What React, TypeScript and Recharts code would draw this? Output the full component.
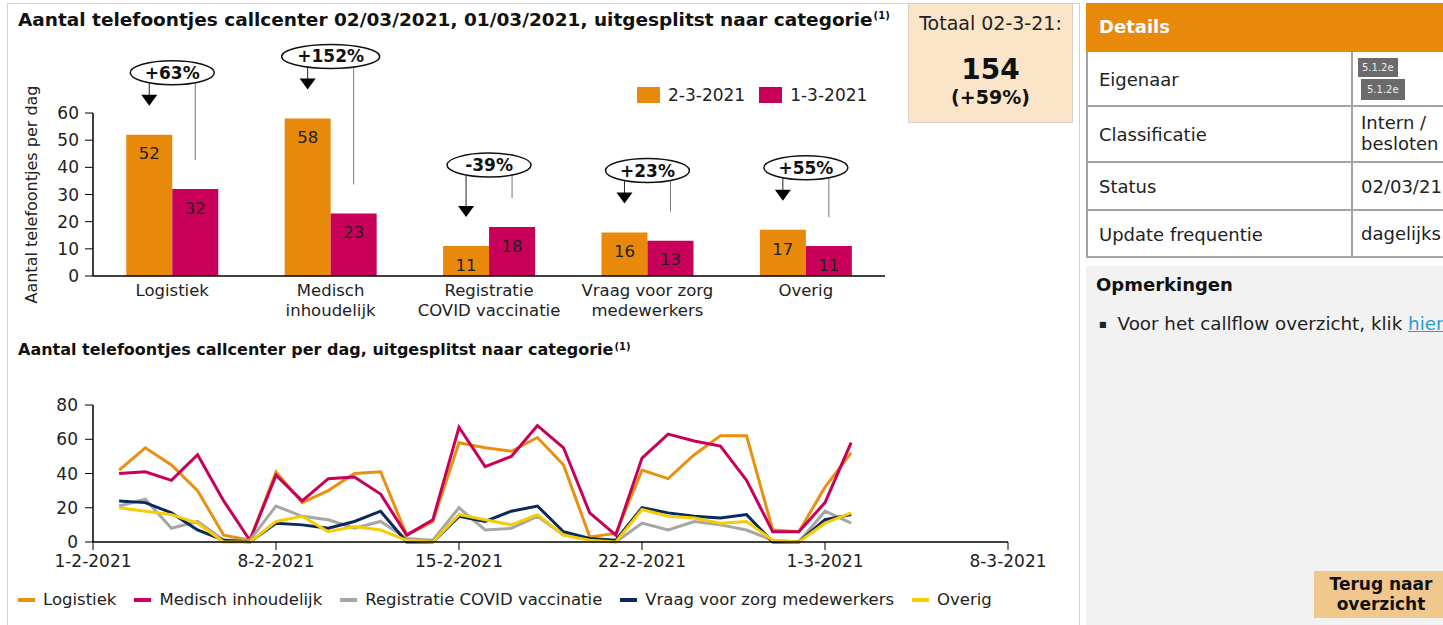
import React from "react";
import { BarChart, Bar, XAxis, YAxis, LabelList, LineChart, Line } from "recharts";

const FONT = "'DejaVu Sans', Verdana, sans-serif";
const ORANGE = "#e8890c";
const MAGENTA = "#c8005a";

// bar chart: calls per category, 2-3-2021 vs 1-3-2021
const categories = [
  "Logistiek",
  "Medisch\ninhoudelijk",
  "Registratie\nCOVID vaccinatie",
  "Vraag voor zorg\nmedewerkers",
  "Overig",
];
const current = [52, 58, 11, 16, 17];
const previous = [32, 23, 18, 13, 11];
const barTicks = [0, 10, 20, 30, 40, 50, 60];

// line chart: calls per day, 2-2-2021 .. 2-3-2021 (day number counted from 1-2-2021)
const days = [1, 2, 3, 4, 5, 6, 7, 8, 9, 10, 11, 12, 13, 14, 15, 16, 17, 18, 19, 20, 21, 22, 23, 24, 25, 26, 27, 28, 29];
const logistiek = [42, 55, 45, 30, 4, 1, 41, 23, 30, 40, 41, 4, 12, 58, 55, 53, 61, 45, 3, 5, 42, 37, 51, 62, 62, 7, 6, 32, 52];
const medisch = [40, 41, 36, 51, 24, 1, 39, 24, 37, 38, 28, 4, 13, 67, 44, 50, 68, 55, 17, 4, 49, 63, 59, 56, 36, 6, 6, 23, 58];
const registratie = [21, 25, 8, 12, 1, 1, 21, 15, 13, 8, 12, 2, 1, 20, 7, 8, 15, 4, 2, 0, 11, 7, 12, 10, 7, 1, 0, 18, 11];
const vraag = [24, 23, 17, 7, 1, 0, 11, 10, 8, 12, 18, 0, 0, 15, 12, 18, 21, 6, 2, 1, 20, 17, 15, 14, 16, 0, 0, 13, 16];
const overig = [20, 18, 16, 11, 0, 0, 12, 15, 6, 9, 7, 1, 0, 16, 13, 10, 16, 4, 1, 0, 19, 15, 14, 11, 12, 1, 0, 11, 17];
const weekTicks = [0, 7, 14, 21, 28, 35];
const weekLabels = ["1-2-2021", "8-2-2021", "15-2-2021", "22-2-2021", "1-3-2021", "8-3-2021"];
const lineTicks = [0, 20, 40, 60, 80];

const series = [
  { key: "logistiek", name: "Logistiek", color: "#e8900f", values: logistiek },
  { key: "medisch", name: "Medisch inhoudelijk", color: MAGENTA, values: medisch },
  { key: "registratie", name: "Registratie COVID vaccinatie", color: "#a6a6a6", values: registratie },
  { key: "vraag", name: "Vraag voor zorg medewerkers", color: "#0b2a5c", values: vraag },
  { key: "overig", name: "Overig", color: "#f5cd00", values: overig },
];

const barData = categories.map((name, i) => ({ name, cur: current[i], prev: previous[i] }));
const lineData = days.map((day, i) => {
  const row: Record<string, number> = { day };
  series.forEach((s) => (row[s.key] = s.values[i]));
  return row;
});

const totalCur = current.reduce((a, b) => a + b, 0);
const totalPrev = previous.reduce((a, b) => a + b, 0);
const totalPct = Math.round(((totalCur - totalPrev) / totalPrev) * 100);

const CategoryTick = (props: any) => {
  const { x, y, payload } = props;
  const lines = String(payload.value).split("\n");
  return (
    <text x={x} y={y + 12} textAnchor="middle" fill="#222" fontSize={16.5} fontFamily={FONT}>
      {lines.map((l, i) => (
        <tspan key={i} x={x} dy={i === 0 ? 0 : 20}>
          {l}
        </tspan>
      ))}
    </text>
  );
};

// ellipse with % change, arrow to the new bar and a thin line to the old one
const ChangeMarker = (props: any) => {
  const vb = props.viewBox ?? props;
  const { x, y, width, height } = vb;
  const i = typeof props.index === "number" ? props.index : current.indexOf(Number(props.value));
  const cur = current[i];
  const prev = previous[i];
  const base = y + height;
  const prevTop = base - (height * prev) / cur;
  const top = Math.min(y, prevTop);
  const cx = x + width;
  const ey = top - 62;
  const pct = Math.round(((cur - prev) / prev) * 100);
  const txt = (pct > 0 ? "+" : "") + pct + "%";
  const rx = 14 + txt.length * 7;
  const ox = x + width / 2;
  const mx = x + width * 1.5;
  return (
    <g>
      <line x1={ox} y1={ey} x2={ox} y2={y - 39} stroke="#222" strokeWidth={1} />
      <polygon points={`${ox - 8},${y - 40} ${ox + 8},${y - 40} ${ox},${y - 29}`} fill="#000" />
      <line x1={mx} y1={ey} x2={mx} y2={prevTop - 29} stroke="#777" strokeWidth={1} />
      <ellipse cx={cx} cy={ey} rx={rx} ry={12} fill="#fff" stroke="#111" strokeWidth={1.5} />
      <text x={cx} y={ey + 6} textAnchor="middle" fontSize={17} fontWeight="bold" fontFamily={FONT} fill="#111">
        {txt}
      </text>
    </g>
  );
};

const yAxisLabel = (p: any) => {
  const vb = p.viewBox;
  const cx = vb.x - 8;
  const cy = vb.y + vb.height / 2;
  return (
    <text x={cx} y={cy + 5} transform={`rotate(-90 ${cx} ${cy})`} textAnchor="middle" fontSize={16} fill="#222" fontFamily={FONT}>
      Aantal telefoontjes per dag
    </text>
  );
};

const abs = (left: number, top: number, extra: React.CSSProperties = {}): React.CSSProperties => ({
  position: "absolute",
  left,
  top,
  ...extra,
});

const Sup = () => (
  <sup style={{ fontSize: 10, verticalAlign: "top", lineHeight: "14px", marginLeft: 1, letterSpacing: 0 }}>(1)</sup>
);

export default function App() {
  const cellBorder = "2px solid #a3a3a3";
  const rows = [
    { label: "Eigenaar", top: 52, h: 55 },
    { label: "Classificatie", top: 107, h: 56 },
    { label: "Status", top: 163, h: 48 },
    { label: "Update frequentie", top: 211, h: 47 },
  ];
  return (
    <div
      style={{
        position: "absolute",
        left: 0,
        top: 0,
        width: 1443,
        height: 625,
        overflow: "hidden",
        background: "#fff",
        fontFamily: FONT,
        color: "#111",
        fontSize: 16,
      }}
    >
      {/* left panel frame */}
      <div style={abs(7, 3, { width: 1071, height: 640, border: "1px solid #d4d4d4" })} />

      <div style={abs(18, 9, { fontWeight: "bold", fontSize: 18.5, lineHeight: "22px", whiteSpace: "nowrap" })}>
        Aantal telefoontjes callcenter 02/03/2021, 01/03/2021, uitgesplitst naar categorie
        <Sup />
      </div>

      <div style={abs(0, 0)}>
        <BarChart
          width={900}
          height={330}
          data={barData}
          margin={{ top: 113, right: 15, bottom: 0, left: 40 }}
          barGap={0}
          barCategoryGap="21%"
        >
          <XAxis
            dataKey="name"
            height={54}
            interval={0}
            axisLine={{ stroke: "#000", strokeWidth: 1.5 }}
            tickLine={false}
            tick={<CategoryTick />}
          />
          <YAxis
            width={53}
            domain={[0, 60]}
            ticks={barTicks}
            interval={0}
            tickSize={8}
            tickMargin={6}
            axisLine={{ stroke: "#000", strokeWidth: 1.5 }}
            tickLine={{ stroke: "#000" }}
            tick={{ fill: "#222", fontSize: 17, fontFamily: FONT }}
            label={yAxisLabel}
          />
          <Bar dataKey="cur" fill={ORANGE} isAnimationActive={false}>
            <LabelList dataKey="cur" position="insideTop" offset={13} fill="#222" fontSize={16.5} fontFamily={FONT} />
            <LabelList dataKey="cur" content={ChangeMarker} />
          </Bar>
          <Bar dataKey="prev" fill={MAGENTA} isAnimationActive={false}>
            <LabelList dataKey="prev" position="insideTop" offset={13} fill="#222" fontSize={16.5} fontFamily={FONT} />
          </Bar>
        </BarChart>
      </div>

      {/* bar legend */}
      <div style={abs(637, 86, { display: "flex", alignItems: "center", lineHeight: "18px", whiteSpace: "nowrap", fontSize: 17 })}>
        <span style={{ width: 23, height: 16, background: ORANGE, display: "inline-block", marginRight: 8 }} />
        <span style={{ color: "#222" }}>2-3-2021</span>
        <span style={{ width: 23, height: 16, background: MAGENTA, display: "inline-block", marginLeft: 14, marginRight: 8 }} />
        <span style={{ color: "#222" }}>1-3-2021</span>
      </div>

      <div style={abs(18, 340, { fontWeight: "bold", lineHeight: "20px", whiteSpace: "nowrap" })}>
        Aantal telefoontjes callcenter per dag, uitgesplitst naar categorie
        <Sup />
      </div>

      <div style={abs(0, 370)}>
        <LineChart width={1060} height={215} data={lineData} margin={{ top: 35, right: 52, bottom: 0, left: 40 }}>
          <XAxis
            type="number"
            dataKey="day"
            domain={[0, 35]}
            ticks={weekTicks}
            interval={0}
            height={43}
            tickSize={8}
            tickMargin={5}
            tickFormatter={(v: number) => weekLabels[weekTicks.indexOf(v)]}
            axisLine={{ stroke: "#000", strokeWidth: 1.5 }}
            tickLine={{ stroke: "#000" }}
            tick={{ fill: "#222", fontSize: 17, fontFamily: FONT }}
          />
          <YAxis
            width={53}
            domain={[0, 80]}
            ticks={lineTicks}
            interval={0}
            tickSize={8}
            tickMargin={7}
            axisLine={{ stroke: "#000", strokeWidth: 1.5 }}
            tickLine={{ stroke: "#000" }}
            tick={{ fill: "#222", fontSize: 17, fontFamily: FONT }}
          />
          {series.map((s) => (
            <Line
              key={s.key}
              type="linear"
              dataKey={s.key}
              name={s.name}
              stroke={s.color}
              strokeWidth={3}
              dot={false}
              isAnimationActive={false}
            />
          ))}
        </LineChart>
      </div>

      {/* line legend */}
      <div style={abs(18, 591, { display: "flex", alignItems: "center", lineHeight: "18px", whiteSpace: "nowrap", fontSize: 16.5 })}>
        {series.map((s, i) => (
          <span key={s.key} style={{ display: "flex", alignItems: "center", marginLeft: i === 0 ? 0 : 18 }}>
            <span style={{ width: 17, height: 4, background: s.color, display: "inline-block", marginRight: 8 }} />
            <span style={{ color: "#222" }}>{s.name}</span>
          </span>
        ))}
      </div>

      {/* total box */}
      <div
        style={abs(908, 3, {
          width: 165,
          height: 120,
          background: "#fae5c9",
          border: "1px solid #d8d0c4",
          boxSizing: "border-box",
          textAlign: "center",
        })}
      >
        <div style={{ marginTop: 7, fontSize: 19, lineHeight: "24px", color: "#222" }}>Totaal 02-3-21:</div>
        <div style={{ marginTop: 19, fontSize: 28, fontWeight: "bold", lineHeight: "32px" }}>{totalCur}</div>
        <div style={{ fontSize: 19, fontWeight: "bold", lineHeight: "22px" }}>
          ({totalPct > 0 ? "+" : ""}
          {totalPct}%)
        </div>
      </div>

      {/* details */}
      <div style={abs(1086, 3, { width: 400, height: 49, background: ORANGE })} />
      <div style={abs(1099, 16, { color: "#fff", fontWeight: "bold", fontSize: 18, lineHeight: "22px" })}>Details</div>
      {rows.map((r) => (
        <div
          key={r.label}
          style={abs(1086, r.top, {
            width: 400,
            height: r.h,
            borderLeft: cellBorder,
            borderBottom: cellBorder,
            boxSizing: "border-box",
          })}
        />
      ))}
      {rows.map((r) => (
        <div key={r.label + "d"} style={abs(1351, r.top, { width: 2, height: r.h, background: "#a3a3a3" })} />
      ))}
      {rows.map((r) => (
        <div
          key={r.label + "t"}
          style={abs(1099, r.top + r.h / 2 - 11, { lineHeight: "22px", fontSize: 18, color: "#222", whiteSpace: "nowrap" })}
        >
          {r.label}
        </div>
      ))}
      <div style={abs(1358, 58, { background: "#6b6b6b", color: "#eee", fontSize: 10, padding: "3px 4px", lineHeight: "13px" })}>
        5.1.2e
      </div>
      <div style={abs(1361, 79, { background: "#6b6b6b", color: "#eee", fontSize: 10, padding: "4px 6px", lineHeight: "13px" })}>
        5.1.2e
      </div>
      <div style={abs(1361, 112, { lineHeight: "21px", fontSize: 18, color: "#222", whiteSpace: "nowrap" })}>
        Intern /
        <br />
        besloten
      </div>
      <div style={abs(1361, 176, { lineHeight: "22px", fontSize: 18, color: "#222", whiteSpace: "nowrap" })}>02/03/21</div>
      <div style={abs(1361, 223, { lineHeight: "22px", fontSize: 18, color: "#222", whiteSpace: "nowrap" })}>dagelijks</div>

      {/* remarks */}
      <div style={abs(1086, 266, { width: 400, height: 400, background: "#f2f2f2" })} />
      <div style={abs(1096, 274, { fontWeight: "bold", fontSize: 18, lineHeight: "22px" })}>Opmerkingen</div>
      <div style={abs(1099, 313, { lineHeight: "22px", fontSize: 18.3, color: "#222", whiteSpace: "nowrap" })}>
        <span style={{ fontSize: 8, marginRight: 11, verticalAlign: "3px" }}>■</span>
        Voor het callflow overzicht, klik{" "}
        <span style={{ color: "#2d9ccf", textDecoration: "underline" }}>hier</span>
      </div>
      <div
        style={abs(1314, 571, {
          width: 134,
          height: 47,
          background: "#f0c88d",
          fontWeight: "bold",
          fontSize: 17,
          textAlign: "center",
          lineHeight: "20px",
          paddingTop: 3,
          boxSizing: "border-box",
        })}
      >
        Terug naar
        <br />
        overzicht
      </div>
    </div>
  );
}
